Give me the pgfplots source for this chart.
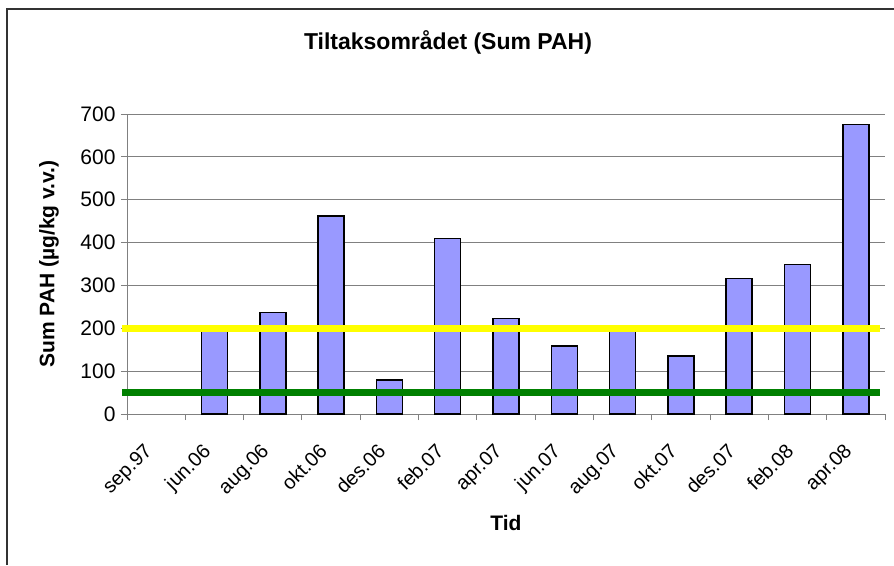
\documentclass[border=0pt]{standalone}
\usepackage{pgfplots}
\pgfplotsset{compat=1.18}
\usepackage{fontspec}
\setmainfont{Liberation Sans}
\definecolor{barblue}{HTML}{9999FF}
\definecolor{gridgray}{HTML}{808080}
\definecolor{lineyellow}{HTML}{FFFF00}
\definecolor{linegreen}{HTML}{008000}
\begin{document}
\begin{tikzpicture}[x=1pt,y=1pt]
\useasboundingbox (0,0) rectangle (894,565);
\fill[white] (0,0) rectangle (894,565);
\draw[line width=1.5pt, color=black!80] (7,0) -- (7,556) -- (894,556);
\begin{axis}[
  at={(127pt,151pt)}, anchor=south west,
  scale only axis, width=758pt, height=300pt,
  xmin=-0.5, xmax=12.5, ymin=0, ymax=700,
  clip=false,
  ytick={0,100,...,700},
  ymajorgrids, grid style={gridgray, line width=1pt},
  axis x line*=bottom, axis y line*=left,
  axis line style={gridgray, line width=1pt},
  tick align=outside, major tick length=6pt,
  tick style={gridgray, line width=1pt},
  xtick={-0.5,0.5,...,12.5}, xticklabels={},
  extra x ticks={0,1,...,12},
  extra x tick labels={sep.97,jun.06,aug.06,okt.06,des.06,feb.07,apr.07,jun.07,aug.07,okt.07,des.07,feb.08,apr.08},
  extra x tick style={major tick length=0pt},
  xticklabel style={font=\fontsize{20}{24}\selectfont, xshift=-13pt, yshift=-28pt, rotate=45, anchor=north east, inner sep=0pt},
  yticklabel style={font=\fontsize{21}{25}\selectfont, xshift=-2pt},
  /pgf/number format/assume math mode=true,
  ylabel={Sum PAH (µg/kg v.v.)},
  ylabel style={font=\bfseries\fontsize{21}{25}\selectfont, at={(axis description cs:-0.103,0.5)}, anchor=center},
  xlabel={Tid},
  xlabel style={font=\bfseries\fontsize{21}{25}\selectfont, at={(axis description cs:0.5,-0.362)}, anchor=center},
  title={Tiltaksområdet (Sum PAH)},
  title style={font=\bfseries\fontsize{23}{27}\selectfont, at={(axis description cs:0.4235,1.218)}, anchor=center},
]
\addplot[ybar, bar width=26pt, fill=barblue, draw=black, line width=1.5pt] coordinates {
  (1,200) (2,237) (3,462) (4,79) (5,409) (6,223) (7,159) (8,200) (9,135) (10,316) (11,349) (12,676)
};
\addplot[lineyellow, line width=7.5pt] coordinates {(-0.586,200) (12.414,200)};
\addplot[linegreen, line width=7.5pt] coordinates {(-0.586,50) (12.414,50)};
\end{axis}
\end{tikzpicture}
\end{document}
